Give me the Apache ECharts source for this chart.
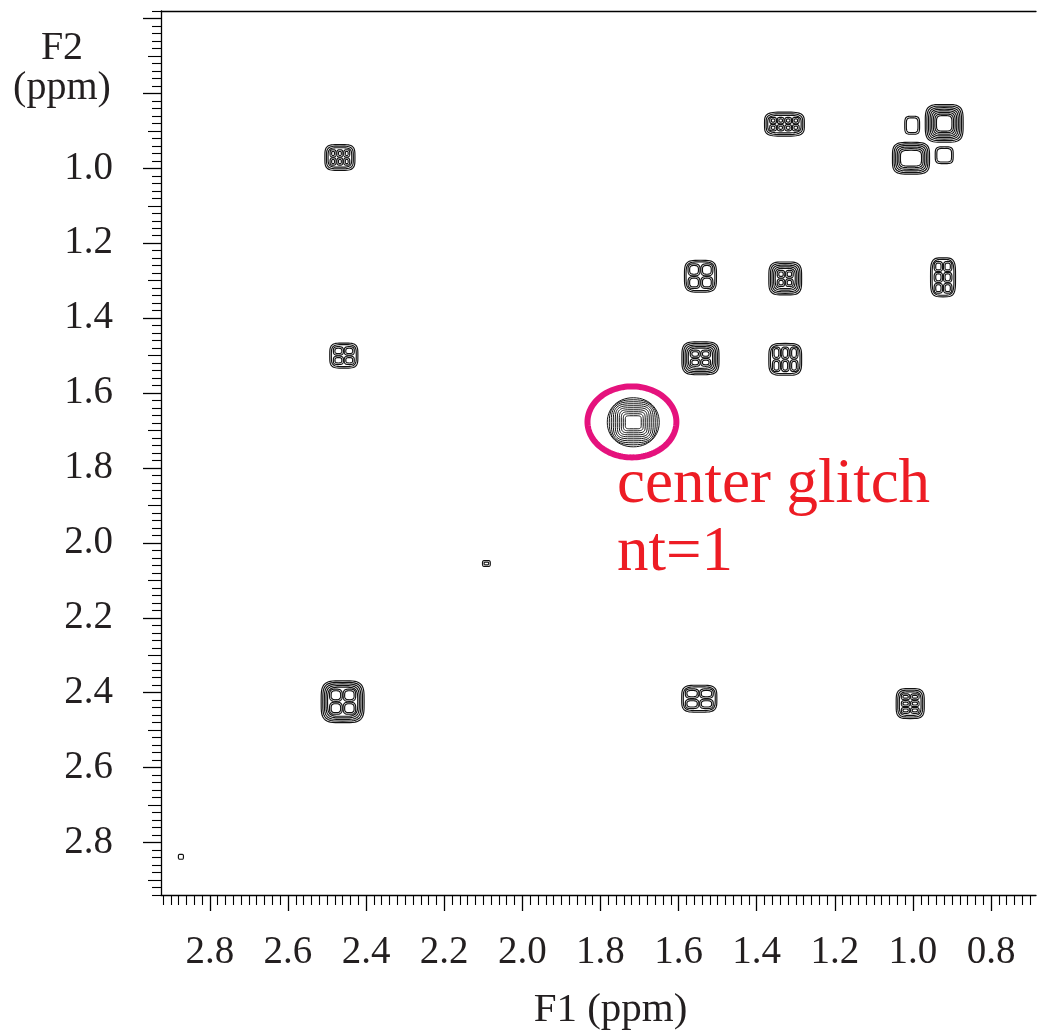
<!DOCTYPE html>
<html><head><meta charset="utf-8">
<script src="https://cdn.jsdelivr.net/npm/echarts@6/dist/echarts.min.js"></script>
<style>html,body{margin:0;padding:0;background:#fff}#c{width:1041px;height:1036px}</style>
</head><body><div id="c"></div>
<script>
// ---- Peak table (chemical shifts and line widths in ppm) ----
const peakF1 = [2.467, 1.329, 0.920, 1.005, 1.002, 0.920, 1.544, 1.327, 0.923, 2.457, 1.544, 1.327, 1.716, 2.092, 2.460, 1.547, 1.007, 2.874];
const peakF2 = [0.971, 0.882, 0.880, 0.973, 0.885, 0.965, 1.288, 1.294, 1.291, 1.500, 1.507, 1.510, 1.678, 2.055, 2.424, 2.416, 2.429, 2.838];
const peakWidthF1 = [0.077, 0.102, 0.097, 0.095, 0.038, 0.046, 0.082, 0.084, 0.064, 0.072, 0.095, 0.084, 0.133, 0.020, 0.110, 0.090, 0.072, 0.013];
const peakWidthF2 = [0.069, 0.064, 0.101, 0.085, 0.048, 0.045, 0.085, 0.088, 0.104, 0.067, 0.088, 0.085, 0.131, 0.016, 0.112, 0.072, 0.080, 0.013];
const peakLevels = [3, 3, 8, 6, 2, 2, 2, 5, 2, 2, 5, 2, 10, 2, 5, 2, 3, 1];
const peakCols = [3, 4, 1, 1, 1, 1, 2, 2, 2, 2, 2, 3, 1, 1, 2, 2, 2, 1];
const peakRows = [2, 2, 1, 1, 1, 1, 2, 2, 3, 2, 2, 2, 1, 1, 2, 2, 3, 1];

// Highlight ellipse around the glitch (ppm)
const markF1 = [1.7194];
const markF2 = [1.677];
const markSpanF1 = [0.2276];
const markSpanF2 = [0.1896];

// ---- Axis ticks ----
const xMajor = [2.8, 2.6, 2.4, 2.2, 2.0, 1.8, 1.6, 1.4, 1.2, 1.0, 0.8];
const yMajor = [0.6, 0.8, 1.0, 1.2, 1.4, 1.6, 1.8, 2.0, 2.2, 2.4, 2.6, 2.8];
const yMedium = [0.7, 0.9, 1.1, 1.3, 1.5, 1.7, 1.9, 2.1, 2.3, 2.5, 2.7, 2.9];
const yLabels = [1.0, 1.2, 1.4, 1.6, 1.8, 2.0, 2.2, 2.4, 2.6, 2.8];

const xMin = 0.685, xMax = 2.925, yMin = 0.58, yMax = 2.94;
function minorTicks(lo, hi, skip) {
  const out = [];
  for (let k = Math.ceil(lo / 0.02 - 1e-6); k * 0.02 <= hi + 1e-6; k++) {
    const v = Math.round(k * 2) / 100;
    if (!skip.some(s => Math.abs(s - v) < 1e-6)) out.push(v);
  }
  return out;
}
const xMinor = minorTicks(0.70, xMax, xMajor);
const yMinor = minorTicks(yMin, yMax, yMajor.concat(yMedium));

const FONT = '"Liberation Serif", "Times New Roman", serif';
const INK = '#231f20';

function squircle(cx, cy, a, b, n, seg) {
  seg = seg || 56;
  const pts = [];
  for (let k = 0; k < seg; k++) {
    const t = k / seg * Math.PI * 2;
    const c = Math.cos(t), s = Math.sin(t);
    pts.push([cx + a * Math.sign(c) * Math.pow(Math.abs(c), 2 / n),
              cy + b * Math.sign(s) * Math.pow(Math.abs(s), 2 / n)]);
  }
  return pts;
}
function ring(pts, w) {
  return { type: 'polygon', shape: { points: pts }, style: { fill: 'none', stroke: '#111', lineWidth: w || 1.15 } };
}

const peakData = peakF1.map((f1, i) => [f1, peakF2[i], peakWidthF1[i], peakWidthF2[i], peakLevels[i], peakCols[i], peakRows[i]]);
const markData = markF1.map((f1, i) => [f1, markF2[i], markSpanF1[i], markSpanF2[i]]);

function renderPeak(params, api) {
  const c = api.coord([api.value(0), api.value(1)]);
  const sz = api.size([api.value(2), api.value(3)]);
  const levels = api.value(4), cols = api.value(5), rows = api.value(6);
  const W = sz[0] / 2, H = sz[1] / 2;
  const glitch = levels >= 10;
  const step = glitch ? 2.0 : 1.6;
  const children = [];
  for (let i = 0; i < levels; i++) {
    const a = W - i * step, b = H - i * step;
    if (a < 1 || b < 1) break;
    const n = glitch ? 2.1 + 4 * i / (levels - 1) : 4;
    children.push(ring(squircle(c[0], c[1], a, b, n), glitch ? 1.0 : 1.15));
  }
  if (cols * rows > 1) {
    const ia = W - levels * step, ib = H - levels * step;
    const cw = 2 * ia / cols, ch = 2 * ib / rows;
    for (let p = 0; p < cols; p++) {
      for (let q = 0; q < rows; q++) {
        const sx = c[0] - ia + cw * (p + 0.5), sy = c[1] - ib + ch * (q + 0.5);
        for (let r = 0; r < 2; r++) {
          const a = cw / 2 - 0.4 - r * 1.6, b = ch / 2 - 0.4 - r * 1.6;
          if (a < 0.8 || b < 0.8) break;
          children.push(ring(squircle(sx, sy, a, b, 3)));
        }
      }
    }
  }
  return { type: 'group', children };
}

function renderMark(params, api) {
  const c = api.coord([api.value(0), api.value(1)]);
  const sz = api.size([api.value(2), api.value(3)]);
  const pts = [];
  for (let k = 0; k < 120; k++) {
    const t = k / 120 * Math.PI * 2;
    pts.push([c[0] + sz[0] / 2 * Math.cos(t), c[1] + sz[1] / 2 * Math.sin(t)]);
  }
  return { type: 'polygon', shape: { points: pts }, style: { fill: 'none', stroke: '#e5127d', lineWidth: 6 } };
}

const baseX = { type: 'value', min: xMin, max: xMax, inverse: true, gridIndex: 0, splitLine: { show: false } };
const baseY = { type: 'value', min: yMin, max: yMax, inverse: true, gridIndex: 0, splitLine: { show: false } };
const lineStyle = { color: '#000', width: 1.3 };

const chart = echarts.init(document.getElementById('c'), null, { renderer: 'canvas' });
chart.setOption({
  animation: false,
  backgroundColor: '#fff',
  grid: { left: 161, right: 5, top: 11, bottom: 140, containLabel: false },
  xAxis: [
    Object.assign({}, baseX, { position: 'bottom', axisLine: { show: true, lineStyle },
      axisTick: { show: true, customValues: xMinor, length: 10, lineStyle: { color: '#000', width: 1.1 } },
      axisLabel: { show: false } }),
    Object.assign({}, baseX, { position: 'bottom', axisLine: { show: false },
      axisTick: { show: true, customValues: xMajor, length: 16, lineStyle: { color: '#000', width: 1.3 } },
      axisLabel: { show: true, customValues: xMajor, margin: 38, fontFamily: FONT, fontSize: 39, color: INK,
        formatter: v => Number(v).toFixed(1) },
      name: 'F1 (ppm)', nameLocation: 'middle', nameGap: 95,
      nameTextStyle: { fontFamily: FONT, fontSize: 41, color: INK, padding: [0, 0, 0, 24] } }),
    Object.assign({}, baseX, { position: 'top', axisLine: { show: true, lineStyle },
      axisTick: { show: false }, axisLabel: { show: false } })
  ],
  yAxis: [
    Object.assign({}, baseY, { position: 'left', axisLine: { show: true, lineStyle },
      axisTick: { show: true, customValues: yMinor, length: 9, lineStyle: { color: '#000', width: 1.1 } },
      axisLabel: { show: false } }),
    Object.assign({}, baseY, { position: 'left', axisLine: { show: false },
      axisTick: { show: true, customValues: yMedium, length: 13, lineStyle: { color: '#000', width: 1.1 } },
      axisLabel: { show: false } }),
    Object.assign({}, baseY, { position: 'left', axisLine: { show: false },
      axisTick: { show: true, customValues: yMajor, length: 18, lineStyle: { color: '#000', width: 1.3 } },
      axisLabel: { show: true, customValues: yLabels, margin: 48, fontFamily: FONT, fontSize: 39, color: INK,
        padding: [0, 0, 10, 0], formatter: v => Number(v).toFixed(1) } })
  ],
  graphic: [
    { type: 'text', x: 62, y: 28, style: { text: 'F2\n(ppm)', font: '40px ' + FONT, fill: INK, align: 'center', verticalAlign: 'top', lineHeight: 40 } },
    { type: 'text', x: 617, y: 454, style: { text: 'center glitch', font: '63px ' + FONT, fill: '#ed1c24', align: 'left', verticalAlign: 'top' } },
    { type: 'text', x: 617, y: 522, style: { text: 'nt=1', font: '63px ' + FONT, fill: '#ed1c24', align: 'left', verticalAlign: 'top' } }
  ],
  series: [
    { type: 'custom', name: 'contours', xAxisIndex: 0, yAxisIndex: 0, renderItem: renderPeak, data: peakData, silent: true },
    { type: 'custom', name: 'glitch mark', xAxisIndex: 0, yAxisIndex: 0, renderItem: renderMark, data: markData, silent: true }
  ]
});
</script></body></html>
